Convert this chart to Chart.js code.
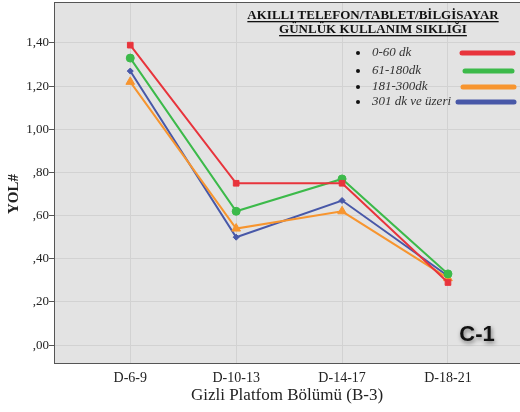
<!DOCTYPE html>
<html>
<head>
<meta charset="utf-8">
<script src="https://cdn.jsdelivr.net/npm/chart.js@4.4.1/dist/chart.umd.min.js"></script>
<style>
  html, body { margin: 0; padding: 0; background: #fff; }
  #wrap { width: 520px; height: 412px; position: relative; }
</style>
</head>
<body>
<div id="wrap"><canvas id="myLineChart" width="520" height="412"></canvas></div>
<script>
// categories + series values
const categories = ['D-6-9', 'D-10-13', 'D-14-17', 'D-18-21'];
const yTicks = [0, 0.2, 0.4, 0.6, 0.8, 1.0, 1.2, 1.4];
const seriesNames = ['0-60 dk', '61-180dk', '181-300dk', '301 dk ve üzeri'];
const red = [1.39, 0.75, 0.75, 0.29];
const green = [1.33, 0.62, 0.77, 0.33];
const orange = [1.22, 0.54, 0.62, 0.31];
const blue = [1.27, 0.50, 0.67, 0.32];

const colors = ['#e8343c', '#3cba4a', '#f7952f', '#4858a8'];
const serif = '"Liberation Serif", "Times New Roman", serif';

function pts(arr) {
  return arr.map((v, i) => ({ x: i, y: v }));
}

// background, frame top line, y title, legend box and the C-1 label
const decor = {
  id: 'decor',
  beforeDraw(chart) {
    const { ctx, chartArea: a } = chart;
    ctx.save();
    ctx.fillStyle = '#e3e3e3';
    ctx.fillRect(a.left, a.top, a.right - a.left, a.bottom - a.top);
    ctx.restore();
  },
  afterDraw(chart) {
    const { ctx, chartArea: a } = chart;
    ctx.save();
    ctx.strokeStyle = '#555';
    ctx.lineWidth = 1;
    ctx.beginPath();
    ctx.moveTo(a.left, a.top + 0.5);
    ctx.lineTo(a.right, a.top + 0.5);
    ctx.stroke();

    // y axis title, a bit below the middle like the original
    ctx.save();
    ctx.translate(14, 194);
    ctx.rotate(-Math.PI / 2);
    ctx.fillStyle = '#222';
    ctx.font = 'bold 15px ' + serif;
    ctx.textAlign = 'center';
    ctx.textBaseline = 'middle';
    ctx.fillText('YOL#', 0, 0);
    ctx.restore();

    // title of legend, bold and underlined
    ctx.fillStyle = '#111';
    ctx.font = 'bold 13px ' + serif;
    ctx.textAlign = 'center';
    ctx.textBaseline = 'alphabetic';
    const titles = [['AKILLI TELEFON/TABLET/BİLGİSAYAR', 19], ['GÜNLÜK KULLANIM SIKLIĞI', 33]];
    titles.forEach(([t, y]) => {
      ctx.fillText(t, 373, y);
      const w = ctx.measureText(t).width;
      ctx.fillRect(373 - w / 2, y + 2, w, 1.3);
    });

    // legend rows
    const rowY = [53, 71, 87, 102];
    const lineX = [[462, 513], [465, 512], [463, 514], [458, 514]];
    ctx.textAlign = 'left';
    ctx.textBaseline = 'middle';
    seriesNames.forEach((name, i) => {
      ctx.fillStyle = '#111';
      ctx.beginPath();
      ctx.arc(358, rowY[i], 2, 0, Math.PI * 2);
      ctx.fill();
      ctx.fillStyle = '#333';
      ctx.font = 'italic 13px ' + serif;
      ctx.fillText(name, 372, rowY[i]);
      ctx.strokeStyle = colors[i];
      ctx.lineWidth = 5;
      ctx.lineCap = 'round';
      ctx.beginPath();
      ctx.moveTo(lineX[i][0], rowY[i]);
      ctx.lineTo(lineX[i][1], rowY[i]);
      ctx.stroke();
    });

    // C-1 stamp
    ctx.font = 'bold 22px "Liberation Sans", Arial, sans-serif';
    ctx.textAlign = 'center';
    ctx.textBaseline = 'alphabetic';
    ctx.shadowColor = 'rgba(0,0,0,0.5)';
    ctx.shadowBlur = 4;
    ctx.shadowOffsetX = 1;
    ctx.shadowOffsetY = 2;
    ctx.fillStyle = '#111';
    ctx.fillText('C-1', 477, 341);
    ctx.restore();
  }
};

const data = {
  datasets: [
    { label: seriesNames[0], data: pts(red), borderColor: colors[0], backgroundColor: colors[0], pointStyle: 'rect', pointRadius: 4 },
    { label: seriesNames[1], data: pts(green), borderColor: colors[1], backgroundColor: colors[1], pointStyle: 'circle', pointRadius: 4 },
    { label: seriesNames[2], data: pts(orange), borderColor: colors[2], backgroundColor: colors[2], pointStyle: 'triangle', pointRadius: 5 },
    { label: seriesNames[3], data: pts(blue), borderColor: colors[3], backgroundColor: colors[3], pointStyle: 'rectRot', pointRadius: 3 }
  ]
};

const options = {
  responsive: false,
  animation: false,
  layout: { autoPadding: false, padding: { top: 2, right: 0, left: 0, bottom: 0 } },
  elements: { line: { borderWidth: 2, tension: 0 } },
  plugins: { legend: { display: false }, tooltip: { enabled: false } },
  scales: {
    x: {
      type: 'linear',
      min: -0.72,
      max: 3.68,
      afterBuildTicks: (axis) => { axis.ticks = categories.map((c, i) => ({ value: i })); },
      afterFit: (scale) => { scale.height = 49; scale.paddingLeft = 0; scale.paddingRight = 0; },
      grid: { color: '#d2d2d2', drawTicks: false },
      border: { display: true, color: '#555', width: 1 },
      ticks: {
        padding: 7,
        color: '#222',
        font: { family: serif, size: 14 },
        callback: (v) => categories[v]
      },
      title: {
        display: true,
        text: 'Gizli Platfom Bölümü (B-3)',
        color: '#222',
        font: { family: serif, size: 17 },
        padding: { top: 0, bottom: 6 }
      }
    },
    y: {
      min: -0.083,
      max: 1.59,
      afterBuildTicks: (axis) => { axis.ticks = yTicks.map(v => ({ value: v })); },
      afterFit: (scale) => { scale.width = 54; scale.paddingTop = 0; scale.paddingBottom = 0; },
      grid: { color: '#d2d2d2', tickColor: '#555', tickLength: 5 },
      border: { display: true, color: '#555', width: 1 },
      ticks: {
        padding: 0,
        color: '#222',
        font: { family: serif, size: 13 },
        callback: (v) => v.toFixed(2).replace('.', ',').replace(/^0/, '')
      }
    }
  }
};

const ctx = document.getElementById('myLineChart').getContext('2d');
const myLineChart = new Chart(ctx, { type: 'line', data: data, options: options, plugins: [decor] });
</script>
</body>
</html>
